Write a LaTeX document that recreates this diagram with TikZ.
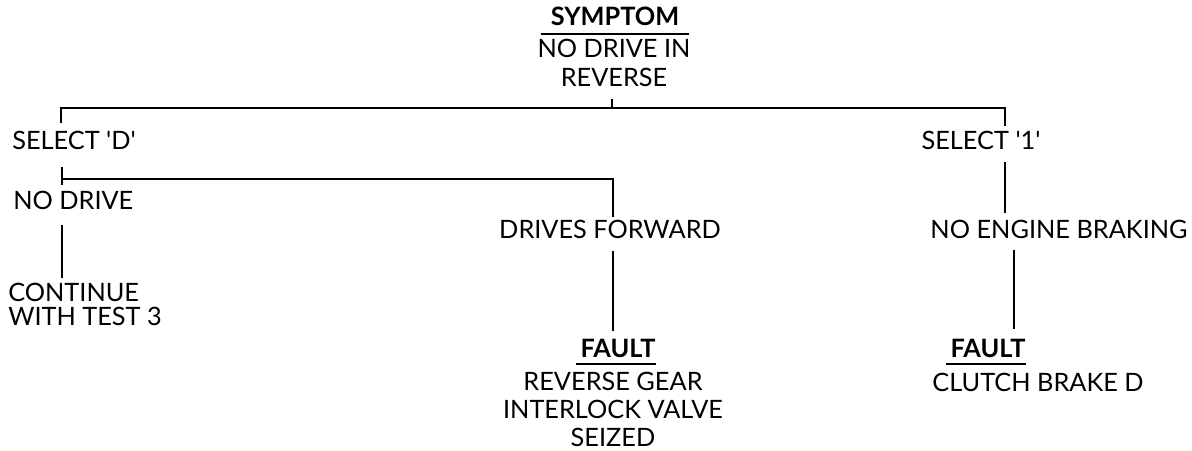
\documentclass[tikz,border=0pt]{standalone}
\usepackage{fontspec}
\setmainfont{Lato}
\usepackage{tikz}
\usetikzlibrary{calc, positioning}
\tikzset{
  entry/.style={
    inner sep=0pt,
    font=\fontsize{18pt}{21pt}\selectfont,
    align=center
  },
  heading/.style={entry, font=\fontsize{18pt}{21pt}\selectfont\bfseries},
  % Stili per le linee
  link/.style={line width=1.3pt},
  underbar/.style={line width=1.3pt}
}

\begin{document}
\begin{tikzpicture}[x=0.025cm, y=-0.025cm]
\useasboundingbox (0,0) rectangle (1192,451);

% Sintomo in alto
\node[heading] (symptom) at (615,16) {SYMPTOM};
\node[entry] (symdesc) at (614,63) {NO DRIVE IN\\REVERSE};

% Prove
\node[entry, anchor=west] (selD) at (12,140) {SELECT \textquotesingle D\textquotesingle};
\node[entry] (sel1) at (981,140) {SELECT \textquotesingle 1\textquotesingle};

% Risultati
\node[entry, anchor=west] (nodrv) at (13,200) {NO DRIVE};
\node[entry] (fwd) at (610,229) {DRIVES FORWARD};
\node[entry] (noeng) at (1059,229.5) {NO ENGINE BRAKING};
\node[entry, anchor=north west, align=left, font=\fontsize{18pt}{17pt}\selectfont] (cont) at (8,283) {CONTINUE\\WITH TEST 3};

% Guasti
\node[heading] (fault1) at (618,348.5) {FAULT};
\node[entry, font=\fontsize{18pt}{20pt}\selectfont] (fault1desc) at (613,409.5) {REVERSE GEAR\\INTERLOCK VALVE\\SEIZED};
\node[heading] (fault2) at (988,348.5) {FAULT};
\node[entry] (fault2desc) at (1038,382) {CLUTCH BRAKE D};

% Sottolineature
\draw[underbar] ([shift={(-10,8)}]symptom.south west) -- ([shift={(10,8)}]symptom.south east);
\draw[underbar] ([shift={(-4,6)}]fault1.south west) -- ([shift={(0,6)}]fault1.south east);
\draw[underbar] ([shift={(-4,6)}]fault2.south west) -- ([shift={(0,6)}]fault2.south east);

% Collegamenti
\coordinate (fork1) at (612,108);
\coordinate (fork2) at (62,179);
\draw[link] ([shift={(-2,12)}]symdesc.south) -- (fork1);
\draw[link] ([shift={(49,-7)}]selD.north west) |- (fork1) -| ([shift={(24,-4)}]sel1.north);
\draw[link] ([shift={(24,12)}]sel1.south) -- ([shift={(-54,-7)}]noeng.north);
\draw[link] ([shift={(50,17)}]selD.south west) -- ([shift={(49,-5)}]nodrv.north west);
\draw[link] (fork2) -| ([shift={(3,-2)}]fwd.north);
\draw[link] ([shift={(49,15)}]nodrv.south west) -- ([shift={(54,-5)}]cont.north west);
\draw[link] ([shift={(3,12)}]fwd.south) -- ([shift={(-5,-8)}]fault1.north);
\draw[link] ([shift={(-45,11)}]noeng.south) -- ([shift={(26,-10)}]fault2.north);

\end{tikzpicture}
\end{document}
